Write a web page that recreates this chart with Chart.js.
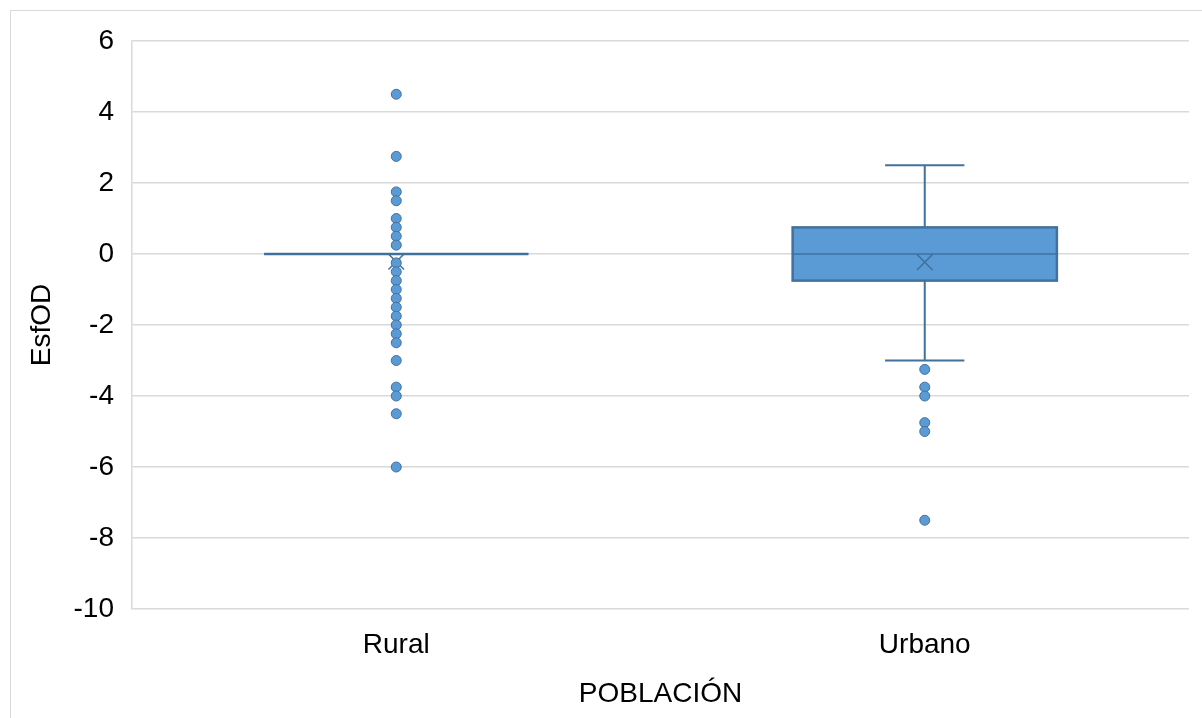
<!DOCTYPE html>
<html>
<head>
<meta charset="utf-8">
<script src="https://cdn.jsdelivr.net/npm/chart.js@4/dist/chart.umd.min.js"></script>
<style>
  html, body { margin: 0; padding: 0; background: #fff; }
  #wrap { position: relative; width: 1202px; height: 718px; overflow: hidden; }
  #frame { position: absolute; left: 10px; top: 10px; width: 1300px; height: 800px; border: 1.5px solid #d9d9d9; box-sizing: border-box; }
  #chart { position: absolute; left: 0; top: 0; }
</style>
</head>
<body>
<div id="wrap">
  <div id="frame"></div>
  <canvas id="chart" width="1202" height="718"></canvas>
</div>
<script>
const categories = ['Rural', 'Urbano'];
const q1 = [0, -0.75];
const median = [0, 0];
const q3 = [0, 0.75];
const whiskerLow = [0, -3];
const whiskerHigh = [0, 2.5];
const means = [-0.22, -0.23];
const ruralOutliers = [4.5, 2.75, 1.75, 1.5, 1, 0.75, 0.5, 0.25, -0.25, -0.5, -0.75, -1, -1.25, -1.5, -1.75, -2, -2.25, -2.5, -3, -3.75, -4, -4.5, -6];
const urbanOutliers = [-3.25, -3.75, -4, -4.75, -5, -7.5];
const yTicks = [6, 4, 2, 0, -2, -4, -6, -8, -10];

const fillBlue = '#5b9bd5';
const lineBlue = '#41719c';
const font = { family: 'Liberation Sans, Arial, sans-serif', size: 28 };

// box, median and whiskers drawn from the scales
const boxPlugin = {
  id: 'boxes',
  beforeDatasetsDraw(chart) {
    const { ctx, scales: { x, y } } = chart;
    const step = x.getPixelForValue(1) - x.getPixelForValue(0);
    const half = step / 4;
    const cap = step * 0.075;
    ctx.save();
    categories.forEach((c, i) => {
      const cx = x.getPixelForValue(i);
      const yq1 = y.getPixelForValue(q1[i]);
      const yq3 = y.getPixelForValue(q3[i]);
      const ymed = y.getPixelForValue(median[i]);
      const ylo = y.getPixelForValue(whiskerLow[i]);
      const yhi = y.getPixelForValue(whiskerHigh[i]);
      ctx.strokeStyle = lineBlue;
      ctx.lineWidth = 2;
      // whiskers
      ctx.beginPath();
      ctx.moveTo(cx, yq3); ctx.lineTo(cx, yhi);
      ctx.moveTo(cx - cap, yhi); ctx.lineTo(cx + cap, yhi);
      ctx.moveTo(cx, yq1); ctx.lineTo(cx, ylo);
      ctx.moveTo(cx - cap, ylo); ctx.lineTo(cx + cap, ylo);
      ctx.stroke();
      // box
      ctx.fillStyle = fillBlue;
      ctx.fillRect(cx - half, yq3, half * 2, yq1 - yq3);
      ctx.lineWidth = 2.5;
      ctx.strokeRect(cx - half, yq3, half * 2, yq1 - yq3);
      ctx.lineWidth = 1.5;
      ctx.beginPath();
      ctx.moveTo(cx - half, ymed); ctx.lineTo(cx + half, ymed);
      ctx.stroke();
    });
    ctx.restore();
  }
};

const pointStyle = {
  showLine: false,
  pointRadius: 5,
  pointBackgroundColor: fillBlue,
  pointBorderColor: lineBlue,
  pointBorderWidth: 1,
  pointHoverRadius: 5
};

new Chart(document.getElementById('chart'), {
  type: 'line',
  data: {
    labels: categories,
    datasets: [
      { ...pointStyle, label: 'Rural', data: ruralOutliers.map(v => ({ x: 'Rural', y: v })) },
      { ...pointStyle, label: 'Urbano', data: urbanOutliers.map(v => ({ x: 'Urbano', y: v })) },
      {
        label: 'Media', showLine: false,
        data: means.map((v, i) => ({ x: categories[i], y: v })),
        pointStyle: 'crossRot', pointRadius: 11, pointHoverRadius: 11,
        pointBorderColor: lineBlue, pointBorderWidth: 1.5
      }
    ]
  },
  options: {
    responsive: false,
    animation: false,
    events: [],
    layout: { padding: { left: 0, top: 41, right: 13, bottom: 0 } },
    plugins: { legend: { display: false }, tooltip: { enabled: false } },
    scales: {
      x: {
        type: 'category',
        offset: true,
        grid: { display: false, offset: true },
        border: { display: false },
        ticks: { color: '#000', font, padding: 11 },
        title: { display: true, text: 'POBLACIÓN', color: '#000', font, padding: { top: 0, bottom: 7 } },
        afterFit(scale) { scale.height = 109; }
      },
      y: {
        min: -10, max: 6,
        afterBuildTicks(scale) { scale.ticks = yTicks.map(v => ({ value: v })); },
        grid: { color: '#d9d9d9', lineWidth: 1.5, drawTicks: false },
        border: { display: true, color: '#d9d9d9', width: 1.5 },
        ticks: { color: '#000', font, padding: 18 },
        title: { display: true, text: 'EsfOD', color: '#000', font, padding: { top: 25, bottom: 0 } },
        afterFit(scale) { scale.width = 132; }
      }
    }
  },
  plugins: [boxPlugin]
});
</script>
</body>
</html>
